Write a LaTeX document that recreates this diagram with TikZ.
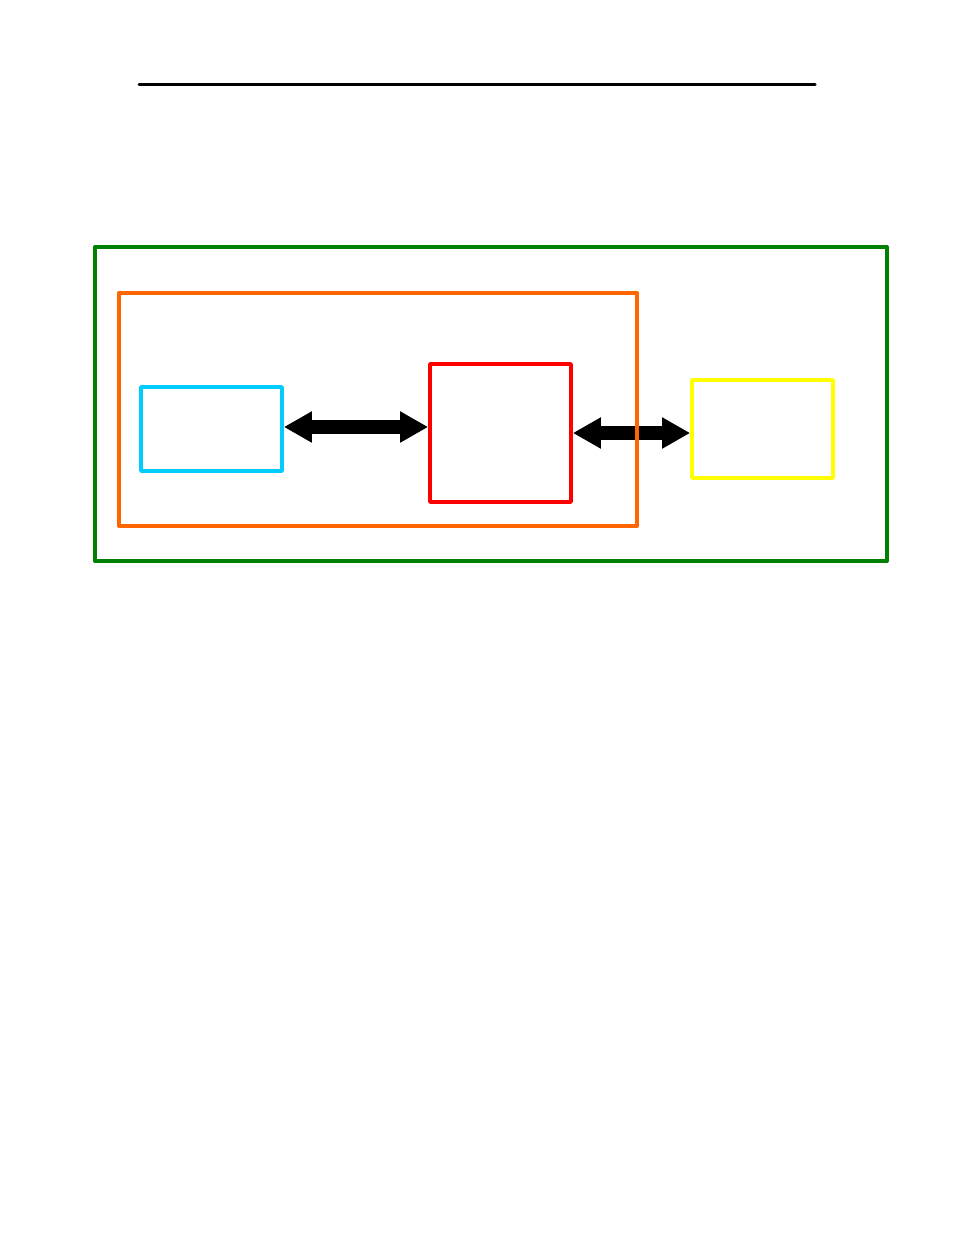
\documentclass[tikz,border=0pt]{standalone}
\usepackage{tikz}
\usetikzlibrary{arrows.meta}

\definecolor{framegreen}{RGB}{0,128,0}
\definecolor{frameorange}{RGB}{255,102,0}
\definecolor{boxcyan}{RGB}{0,204,255}
\definecolor{boxred}{RGB}{255,0,0}
\definecolor{boxyellow}{RGB}{255,255,0}

\begin{document}
\begin{tikzpicture}[x=0.75pt, y=-0.75pt,
    frame/.style={draw=#1, line width=3pt, line join=round, inner sep=0pt},
    fat/.style={line width=10.5pt, {Triangle[length=21pt,width=22pt]}-{Triangle[length=21pt,width=22pt]}}]
  \useasboundingbox (0, 0) rectangle (954, 1235);

  \draw[line width=2.25pt, line cap=round] (139, 84) -- (815, 84);

  \node[frame=framegreen, minimum width=594pt, minimum height=235.5pt] (outer) at (491, 404) {};
  \node[frame=boxcyan, line width=2.8pt, minimum width=105.75pt, minimum height=63pt] (cyanbox) at (211.5, 429) {};
  \node[frame=boxred, line width=2.8pt, minimum width=105.75pt, minimum height=103.5pt] (redbox) at (500.5, 433) {};
  \node[frame=boxyellow, line width=2.8pt, minimum width=105.75pt, minimum height=73.5pt] (yellowbox) at (762.5, 429) {};

  \draw[fat] ([yshift=1.5pt]cyanbox.east) -- ([yshift=1.5pt]cyanbox.east -| redbox.west);
  \draw[fat] (redbox.east) -- (redbox.east -| yellowbox.west);

  \node[frame=frameorange, minimum width=388.5pt, minimum height=174.75pt] (inner) at (378, 409.5) {};
\end{tikzpicture}
\end{document}
